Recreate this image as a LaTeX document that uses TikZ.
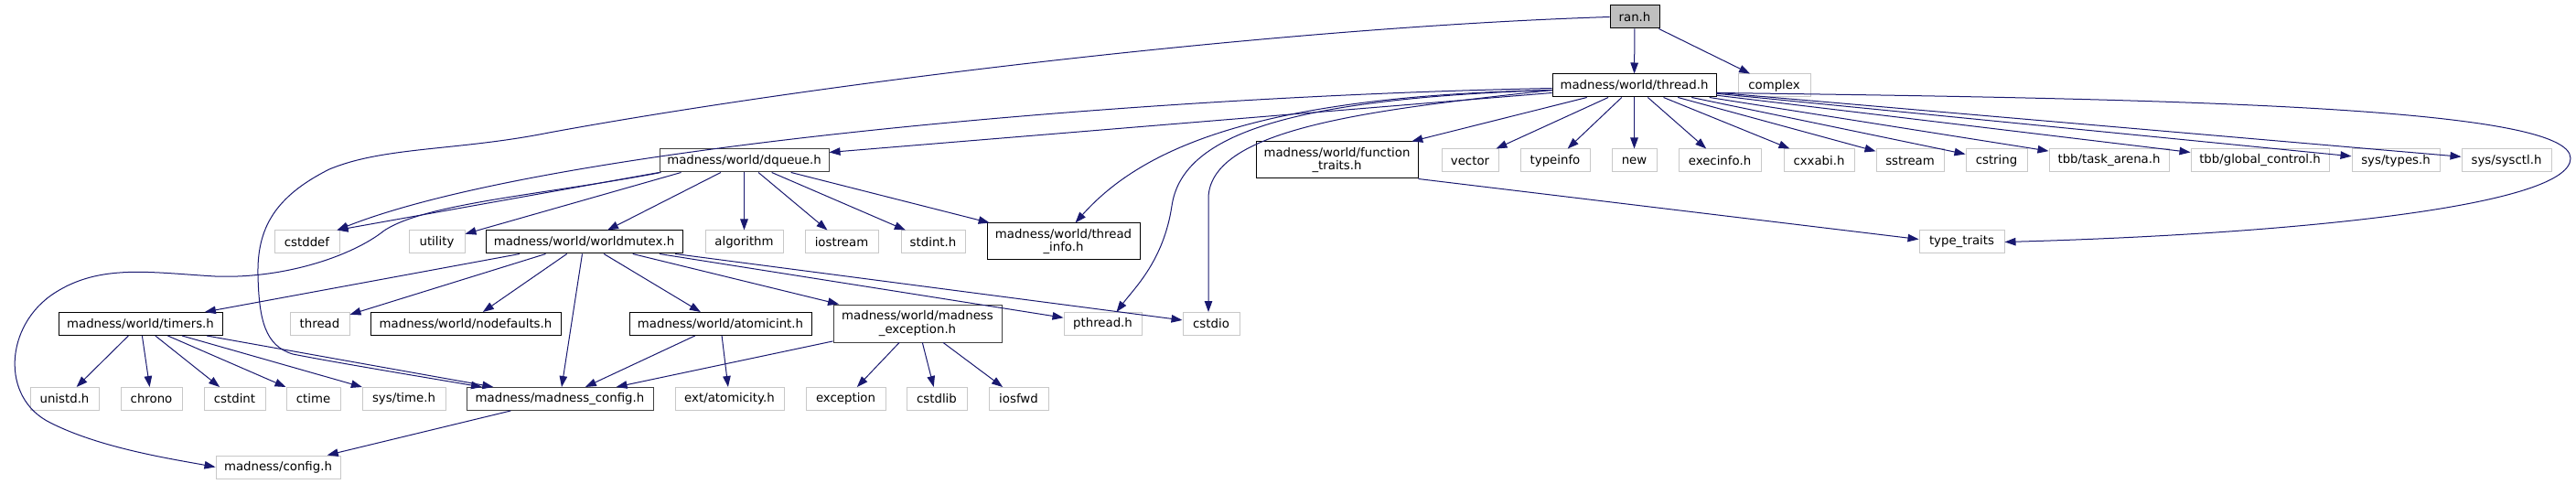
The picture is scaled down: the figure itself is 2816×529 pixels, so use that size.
\documentclass[tikz,border=0pt]{standalone}
\usepackage{fontspec}
\setmainfont{DejaVu Sans}
\usepackage{tikz}
\usetikzlibrary{arrows.meta}
\definecolor{linkblue}{RGB}{25,25,112}
\definecolor{sysgrey}{RGB}{200,200,200}
\definecolor{rootgrey}{RGB}{191,191,191}
\definecolor{hdrgrey}{RGB}{64,64,64}

\begin{document}
\begin{tikzpicture}[x=1pt, y=-1pt,
    every node/.style={font=\fontsize{13.3}{14.5}\selectfont, inner sep=0pt, align=center, minimum height=25pt},
    hdr/.style={draw=black, line width=1pt, fill=white, minimum width=#1},
    hdrg/.style={hdr=#1, draw=hdrgrey},
    roothdr/.style={hdr=#1, fill=rootgrey},
    syshdr/.style={draw=sysgrey, line width=1pt, fill=white, minimum width=#1},
    dep/.style={draw=linkblue, line width=1pt, -{Triangle[length=12pt,width=8.5pt]}}]

        \fill[white] (0,0) rectangle (2816,529);
        \useasboundingbox (0,0) rectangle (2816,529);

        % ran.h and thread.h
        \node[roothdr=54] (ranh) at (1787,18.5) {ran.h};
        \node[hdr=179] (threadh) at (1786.5,93.5) {madness/world/thread.h};
        \node[syshdr=79] (complex) at (1939.5,93.5) {complex};

        % third row
        \node[hdrg=185] (dqueueh) at (813.5,175.5) {madness/world/dqueue.h};
        \node[hdr=177, minimum height=40pt] (functrh) at (1461.5,175) {madness/world/function\\\_traits.h};
        \foreach \nm/\x/\w/\txt in {vector/1607/62/{vector}, typeinfo/1700/76/{typeinfo}, new/1786.5/49/{new},
            execinfo/1880/90/{execinfo.h}, cxxabi/1988.5/77/{cxxabi.h}, sstream/2088/74/{sstream},
            cstring/2182.5/67/{cstring}, taskarena/2305.5/131/{tbb/task\_arena.h},
            globalctl/2470.5/151/{tbb/global\_control.h}, systypes/2619/96/{sys/types.h},
            sysctl/2740/98/{sys/sysctl.h}} {
          \node[syshdr=\w] (\nm) at (\x,175.5) {\txt};
        }

        % fourth row
        \node[syshdr=71] (cstddef) at (335.5,264.5) {cstddef};
        \node[syshdr=61] (utility) at (477.5,264.5) {utility};
        \node[hdr=215] (worldmutexh) at (638.5,264.5) {madness/world/worldmutex.h};
        \node[syshdr=85] (algorithm) at (813.5,264.5) {algorithm};
        \node[syshdr=80] (iostream) at (920,264.5) {iostream};
        \node[syshdr=70] (stdint) at (1020,264.5) {stdint.h};
        \node[hdr=167, minimum height=40pt] (threadinfoh) at (1162.5,264) {madness/world/thread\\\_info.h};
        \node[syshdr=93] (typetraits) at (2144.5,264.5) {type\_traits};

        % fifth row
        \node[hdr=179] (timersh) at (153.5,354) {madness/world/timers.h};
        \node[syshdr=65] (thread) at (349.5,354) {thread};
        \node[hdr=208] (nodefaultsh) at (509,354) {madness/world/nodefaults.h};
        \node[hdr=199] (atomicinth) at (787.5,354) {madness/world/atomicint.h};
        \node[hdrg=184, minimum height=41pt] (mexceptionh) at (1003,353.5) {madness/world/madness\\\_exception.h};
        \node[syshdr=85] (pthread) at (1205.5,354) {pthread.h};
        \node[syshdr=62] (cstdio) at (1324,354) {cstdio};

        % sixth row
        \foreach \nm/\x/\w/\txt in {unistd/70.5/75/{unistd.h}, chrono/165.5/67/{chrono}, cstdint/256.5/67/{cstdint},
            ctime/342.5/59/{ctime}, systime/441.5/91/{sys/time.h}, atomicity/797.5/119/{ext/atomicity.h},
            exception/924.5/87/{exception}, cstdlib/1024/66/{cstdlib}, iosfwd/1113.5/65/{iosfwd}} {
          \node[syshdr=\w] (\nm) at (\x,436) {\txt};
        }
        \node[hdrg=204] (mconfigh) at (612,436) {madness/madness\_config.h};

        % last row
        \node[syshdr=136] (config) at (304,510.5) {madness/config.h};

        % ran.h deps
        \draw[dep] (ranh) -- (threadh);
        \draw[dep] (ranh) -- (complex);
        \draw[dep] (ranh.west) .. controls (1400,30) and (900,90) .. (600,145)
          .. controls (500,165) and (420,160) .. (360,185)
          .. controls (300,215) and (281,250) .. (282,300)
          .. controls (283,350) and (290,378) .. (320,387)
          .. controls (360,395) and (450,410) .. ([xshift=-85pt]mconfigh.north);

        % thread.h deps
        \draw[dep] (threadh) -- (functrh);
        \foreach \nm in {vector,typeinfo,new,execinfo,cxxabi,sstream,cstring,taskarena,globalctl,systypes,sysctl}
          \draw[dep] (threadh) -- (\nm);
        \draw[dep] ([yshift=-8pt]threadh.west) -- ([yshift=9pt]dqueueh.east);
        \draw[dep] ([yshift=-3pt]threadh.west) .. controls (1250,105) and (600,160) .. ([xshift=-3pt]cstddef.north east);
        \draw[dep] ([yshift=-5pt]threadh.west) .. controls (1380,105) and (1250,160) .. ([xshift=13pt]threadinfoh.north);
        \draw[dep] ([yshift=-5pt]threadh.west) .. controls (1400,108) and (1292,150) .. (1281,225)
          .. controls (1272,285) and (1240,315) .. ([xshift=15pt]pthread.north);
        \draw[dep] ([yshift=-5pt]threadh.west) .. controls (1500,120) and (1325,140) .. (1321,215) -- ([xshift=-3pt]cstdio.north);
        \draw[dep] ([yshift=-8pt]threadh.east) .. controls (2400,108) and (2810,118) .. (2810,173)
          .. controls (2810,226) and (2500,256) .. (typetraits.east);
        \draw[dep] (functrh.south east) -- ([yshift=3pt]typetraits.west);

        % dqueue.h deps
        \foreach \nm in {worldmutexh,algorithm,iostream,stdint,threadinfoh}
          \draw[dep] (dqueueh) -- (\nm);
        \draw[dep] (dqueueh.south west) -- ([xshift=-3pt]cstddef.north east);
        \draw[dep] ([xshift=24pt]dqueueh.south west) -- (utility);
        \draw[dep] ([xshift=2pt]dqueueh.south west) .. controls (600,212) and (465,222) .. (420,252)
          .. controls (385,280) and (310,305) .. (235,302)
          .. controls (165,298) and (110,288) .. (60,320)
          .. controls (5,355) and (0,435) .. (55,462)
          .. controls (110,490) and (190,502) .. (config.west);

        % worldmutex.h deps
        \foreach \nm in {timersh,thread,nodefaultsh,mconfigh,atomicinth,mexceptionh,pthread,cstdio}
          \draw[dep] (worldmutexh) -- (\nm);

        % timers.h, atomicint.h, madness_exception.h deps
        \foreach \nm in {unistd,chrono,cstdint,ctime,systime,mconfigh}
          \draw[dep] (timersh) -- (\nm);
        \foreach \nm in {mconfigh,atomicity}
          \draw[dep] (atomicinth) -- (\nm);
        \foreach \nm in {mconfigh,exception,cstdlib,iosfwd}
          \draw[dep] (mexceptionh) -- (\nm);
        \draw[dep] (mconfigh) -- (config);
      \end{tikzpicture}
\end{document}
